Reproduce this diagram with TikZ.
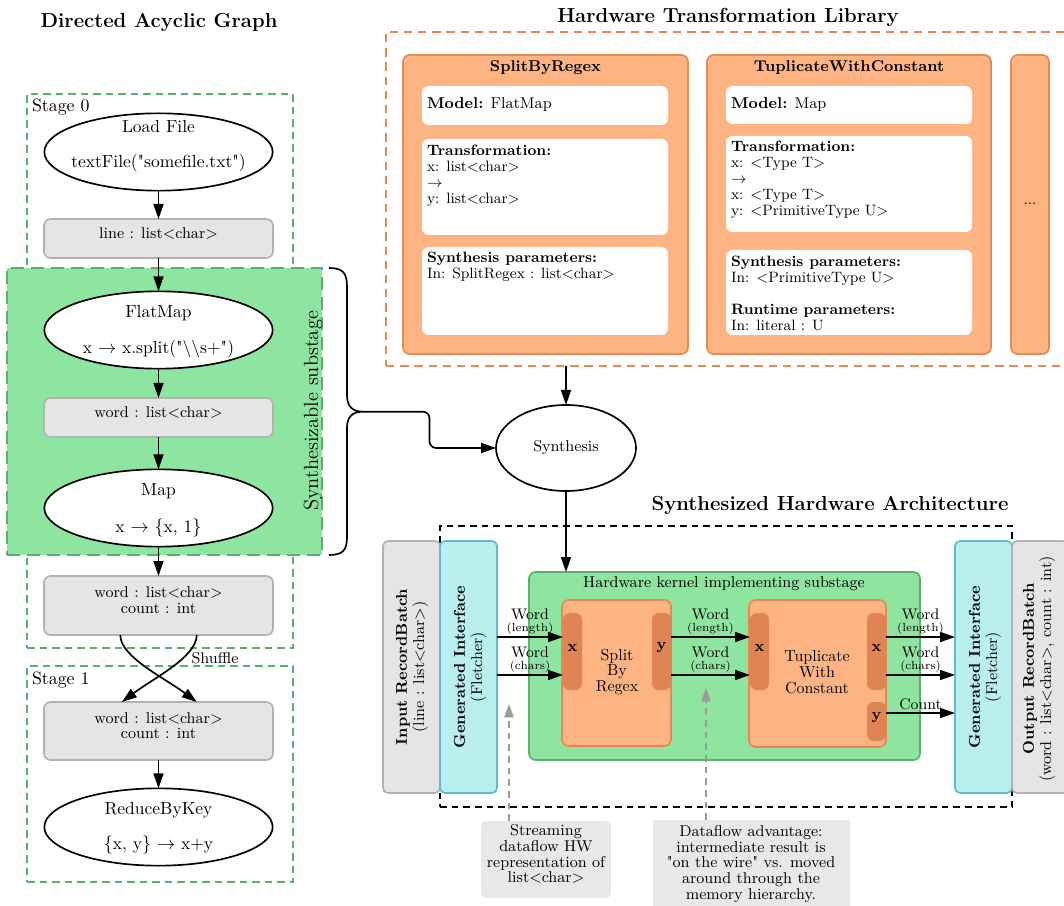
\documentclass[tikz,border=0pt]{standalone}
\usepackage{fontspec}
\usetikzlibrary{arrows.meta,shapes.geometric,fit,calc}
\definecolor{stagegreen}{HTML}{55B26A}
\definecolor{subfill}{HTML}{8EE5A0}
\definecolor{subdraw}{HTML}{5DAE6E}
\definecolor{boxfill}{HTML}{E5E5E5}
\definecolor{boxdraw}{HTML}{B2B2B2}
\definecolor{cardfill}{HTML}{FDB482}
\definecolor{carddraw}{HTML}{E38B55}
\definecolor{libdraw}{HTML}{E8874F}
\definecolor{portfill}{HTML}{E08453}
\definecolor{cyanfill}{HTML}{B9F0EE}
\definecolor{cyandraw}{HTML}{63B9D1}
\definecolor{notefill}{HTML}{E8E8E8}
\definecolor{grayarrow}{HTML}{9A9A9A}
\newcommand\fsmain{\fontsize{10.5}{12.6}\selectfont}
\newcommand\fsbox{\fontsize{9.4}{10.4}\selectfont}
\newcommand\fscard{\fontsize{9}{9.6}\selectfont}
\newcommand\fstiny{\fontsize{7}{8}\selectfont}
\font\qfonta="[lmroman10-regular]" at 10.5pt
\font\qfontb="[lmroman10-regular]" at 9.4pt
\newcommand\qqa{{\qfonta\char34}}
\newcommand\qqb{{\qfontb\char34}}
\begin{document}
\begin{tikzpicture}[x=0.6pt,y=-0.6pt,
  every node/.style={inner sep=0pt,outer sep=0pt},
  arr/.style={-{Triangle[length=9pt,width=6pt]},line width=1pt,draw=black},
  garr/.style={-{Triangle[length=8pt,width=5.5pt]},line width=1pt,draw=grayarrow,fill=none,dash pattern=on 4pt off 3pt},
  title/.style={font=\fontsize{12.2}{14}\selectfont\bfseries},
  ell/.style={ellipse,draw=black,line width=1pt,fill=white,minimum width=137pt,minimum height=46.4pt},
  gbox/.style={rectangle,rounded corners=4pt,draw=boxdraw,fill=boxfill,line width=1pt,font=\fsbox,align=center},
  stagebox/.style={rectangle,draw=stagegreen,line width=1.5pt,dash pattern=on 4.5pt off 3pt},
  subbox/.style={rectangle,draw=subdraw,fill=subfill,line width=1pt,dash pattern=on 8pt off 4pt},
  card/.style={rectangle,rounded corners=4pt,draw=carddraw,fill=cardfill,line width=1pt},
  wbox/.style={rectangle,rounded corners=4pt,fill=white},
  ctitle/.style={font=\fontsize{9.4}{10}\selectfont\bfseries},
  ctext/.style={font=\fscard,align=left},
  port/.style={rectangle,rounded corners=4pt,fill=portfill,font=\fsbox\bfseries},
  blk/.style={rectangle,rounded corners=4pt,draw=libdraw,fill=cardfill,line width=1pt},
  cyanbox/.style={rectangle,rounded corners=3pt,draw=cyandraw,fill=cyanfill,line width=1pt},
  inbox/.style={rectangle,rounded corners=3pt,draw=boxdraw,fill=boxfill,line width=1pt},
  note/.style={rectangle,rounded corners=3pt,fill=notefill,font=\fontsize{9.4}{9.5}\selectfont,align=center},
  wlab/.style={midway,above=1.8pt,align=center,font=\fontsize{9.2}{10}\selectfont}
]
\clip (0,0) rectangle (1064,906);

% ---------------- Directed Acyclic Graph ----------------
\node[title] (tdag) at (159,22) {Directed Acyclic Graph};
\node[stagebox,fit={(27,94) (293,648)}] (st0) {};
\node[stagebox,fit={(27,666) (293,882)}] (st1) {};
\node[anchor=west,font=\fontsize{10.7}{12}\selectfont] (st0l) at (32,107) {Stage 0};
\node[anchor=west,font=\fontsize{10.7}{12}\selectfont] (st1l) at (32,680) {Stage 1};
\node[subbox,fit={(7,268) (322,555)}] (sub) {};
\node[rotate=90,font=\fontsize{12.3}{14}\selectfont] (subl) at (313,411) {Synthesizable substage};

\node[ell] (load) at (158.5,152) {};
\node[font=\fsmain] (loadA) at (158.5,127) {Load File};
\node[font=\fsmain] (loadB) at (158.5,163) {textFile(\qqa somefile.txt\qqa)};
\node[gbox,fit={(44,219) (273,258)}] (line) {line : list<char>};

\node[ell] (flat) at (158.5,330) {};
\node[font=\fsmain] (flatA) at (158.5,313) {FlatMap};
\node[font=\fsmain] (flatB) at (158.5,349) {x $\rightarrow$ x.split(\qqa\textbackslash\textbackslash s+\qqa)};
\node[gbox,fit={(44,398) (273,437)}] (word) {word : list<char>};

\node[ell] (map) at (158.5,508) {};
\node[font=\fsmain] (mapA) at (158.5,491) {Map};
\node[font=\fsmain] (mapB) at (158.5,528) {x $\rightarrow$ $\{$x, 1$\}$};

\node[gbox,fit={(44,576) (273,635)}] (wc0) {word : list<char>\\[-1pt]count : int};
\node[gbox,fit={(44,702) (273,760)}] (wc1) {word : list<char>\\[-1pt]count : int};

\node[ell] (red) at (158.5,827) {};
\node[font=\fsmain] (redA) at (158.5,810) {ReduceByKey};
\node[font=\fsmain] (redB) at (158.5,845) {$\{$x, y$\}$ $\rightarrow$ x+y};

\draw[arr] (load.south) -- (line.north);
\draw[arr] (line.south) -- (flat.north);
\draw[arr] (flat.south) -- (word.north);
\draw[arr] (word.south) -- (map.north);
\draw[arr] (map.south) -- (wc0.north);
\draw[arr] (wc1.south) -- (red.north);

\coordinate (s1) at ($(wc0.south west)!0.333!(wc0.south east)$);
\coordinate (s2) at ($(wc0.south west)!0.667!(wc0.south east)$);
\coordinate (e1) at ($(wc1.north west)!0.667!(wc1.north east)$);
\coordinate (e2) at ($(wc1.north west)!0.34!(wc1.north east)$);
\draw[arr] (s1) .. controls ($(s1)+(0,22)$) and ($(e1)+(-32,-24)$) .. (e1);
\draw[arr] (s2) .. controls ($(s2)+(0,22)$) and ($(e2)+(32,-24)$) .. (e2);
\node[font=\fsbox] (shuf) at (215,658) {Shuffle};

% brace
\coordinate (bt) at (363,411.7);
\draw[line width=1pt] (329,268) .. controls (343,268) and (347,273) .. (347,287) -- (347,395)
  .. controls (347,406) and (352,411.7) .. (bt)
  .. controls (352,411.7) and (347,417) .. (347,428) -- (347,537)
  .. controls (347,550) and (343,555) .. (329,555);

% ---------------- Hardware Transformation Library ----------------
\node[title] (tlib) at (728,17) {Hardware Transformation Library};
\node[rectangle,draw=libdraw,line width=1.3pt,dash pattern=on 5pt off 3.5pt,fit={(386,32) (1075,366)}] (lib) {};

\node[card,fit={(403,55) (688,354)}] (sc) {};
\node[ctitle] (scT) at (545.5,68) {SplitByRegex};
\node[wbox,fit={(422,86) (668,125)}] (m1) {};
\node[anchor=west,font=\fsbox] (m1t) at (427,105) {\textbf{Model:} FlatMap};
\node[wbox,fit={(422,139) (668,235)}] (tr1) {};
\node[ctext,anchor=north west] (tr1t) at (427,145) {\textbf{Transformation:}\\x: list<char>\\$\rightarrow$\\y: list<char>};
\node[wbox,fit={(422,247) (668,335)}] (sp1) {};
\node[ctext,anchor=north west] (sp1t) at (427,252) {\textbf{Synthesis parameters:}\\In: SplitRegex : list<char>};

\node[card,fit={(707,55) (991,354)}] (tc) {};
\node[ctitle] (tcT) at (849,68) {TuplicateWithConstant};
\node[wbox,fit={(726,86) (972,124)}] (m2) {};
\node[anchor=west,font=\fsbox] (m2t) at (731,105) {\textbf{Model:} Map};
\node[wbox,fit={(726,136) (972,232)}] (tr2) {};
\node[ctext,anchor=north west] (tr2t) at (731,141) {\textbf{Transformation:}\\x: <Type T>\\$\rightarrow$\\x: <Type T>\\y: <PrimitiveType U>};
\node[wbox,fit={(726,250) (972,335)}] (sp2) {};
\node[ctext,anchor=north west] (sp2t) at (731,256) {\textbf{Synthesis parameters:}\\In: <PrimitiveType U>\\[9.6pt]\textbf{Runtime parameters:}\\In: literal : U};

\node[card,fit={(1011,55) (1049,354)},font=\fscard] (dc) {...};

% ---------------- Synthesis ----------------
\node[ellipse,draw=black,line width=1pt,fill=white,minimum width=84pt,minimum height=51.6pt,font=\fsbox] (syn) at (566,448) {Synthesis};
\draw[arr] (lib.south -| syn.north) -- (syn.north);
\draw[arr,rounded corners=4pt] (bt) -| ($(bt)!0.5!(syn.west)$) |- (syn.west);

% ---------------- Synthesized Hardware Architecture ----------------
\node[title] (thw) at (830,505) {Synthesized Hardware Architecture};
\node[rectangle,draw=black,line width=1pt,dash pattern=on 4pt off 3pt,fit={(440,526) (1012,807)}] (hwbox) {};

\node[inbox,fit={(383,541) (440,793)}] (ib) {};
\node[rotate=90,align=center,font=\fsbox] (ibt) at (412,667) {\textbf{Input RecordBatch}\\(line : list<char>)};
\node[cyanbox,fit={(440,541) (497,793)}] (gi1) {};
\node[rotate=90,align=center,font=\fsbox] (gi1t) at (470,667) {\textbf{Generated Interface}\\(Fletcher)};
\node[cyanbox,fit={(955,541) (1012,793)}] (gi2) {};
\node[rotate=90,align=center,font=\fsbox] (gi2t) at (985,667) {\textbf{Generated Interface}\\(Fletcher)};
\node[inbox,fit={(1012,541) (1068,793)}] (ob) {};
\node[rotate=90,align=center,font=\fsbox] (obt) at (1039,669) {\textbf{Output RecordBatch}\\(word : list<char>, count : int)};

\node[rectangle,rounded corners=4pt,draw=subdraw,fill=subfill,line width=1pt,fit={(529,572) (920,760)}] (kern) {};
\node[font=\fsbox] (kernt) at (724,584) {Hardware kernel implementing substage};
\draw[arr] (syn.south) -- (kern.north -| syn.south);

\node[blk,fit={(562,600) (671,746)}] (sbr) {};
\node[port,fit={(563,613) (582,690)}] (xp1) {x};
\node[port,fit={(652,613) (671,690)}] (yp1) {y};
\node[align=center,font=\fontsize{9.6}{9.4}\selectfont] (sbrt) at (617,672) {Split\\By\\Regex};

\node[blk,fit={(749,600) (886,747)}] (twc) {};
\node[port,fit={(750,613) (769,690)}] (xp2) {x};
\node[port,fit={(867,613) (886,690)}] (xo2) {x};
\node[port,fit={(867,702) (886,741)}] (yo2) {y};
\node[align=center,font=\fontsize{9.6}{9.4}\selectfont] (twct) at (817,672) {Tuplicate\\With\\Constant};

\coordinate (r1) at (0,637);
\coordinate (r2) at (0,675);
\coordinate (r3) at (0,713);
\draw[arr] (gi1.east |- r1) -- node[wlab] {Word\\[-3pt]{\fstiny(length)}} (xp1.west |- r1);
\draw[arr] (gi1.east |- r2) -- node[wlab] {Word\\[-3pt]{\fstiny(chars)}} (xp1.west |- r2);
\draw[arr] (yp1.east |- r1) -- node[wlab] {Word\\[-3pt]{\fstiny(length)}} (xp2.west |- r1);
\draw[arr] (yp1.east |- r2) -- node[wlab] {Word\\[-3pt]{\fstiny(chars)}} (xp2.west |- r2);
\draw[arr] (xo2.east |- r1) -- node[wlab] {Word\\[-3pt]{\fstiny(length)}} (gi2.west |- r1);
\draw[arr] (xo2.east |- r2) -- node[wlab] {Word\\[-3pt]{\fstiny(chars)}} (gi2.west |- r2);
\draw[arr] (yo2.east |- r3) -- node[wlab] {Count} (gi2.west |- r3);

% notes
\node[note,fit={(481,821) (611,898)}] (n1) {Streaming\\dataflow HW\\representation of\\list<char>};
\node[note,rounded corners=1pt,fit={(653,820) (850,912)}] (n2) {};
\node[align=center,font=\fontsize{9.4}{9.5}\selectfont] (n2t) at (751,864) {Dataflow advantage:\\intermediate result is\\\qqb on the wire\qqb{} vs. moved\\around through the\\memory hierarchy.};
\coordinate (tip1) at (509,704);
\coordinate (tip2) at (706,688);
\draw[garr] (n1.north -| tip1) -- (tip1);
\draw[garr] (n2.north -| tip2) -- (tip2);
\end{tikzpicture}
\end{document}
